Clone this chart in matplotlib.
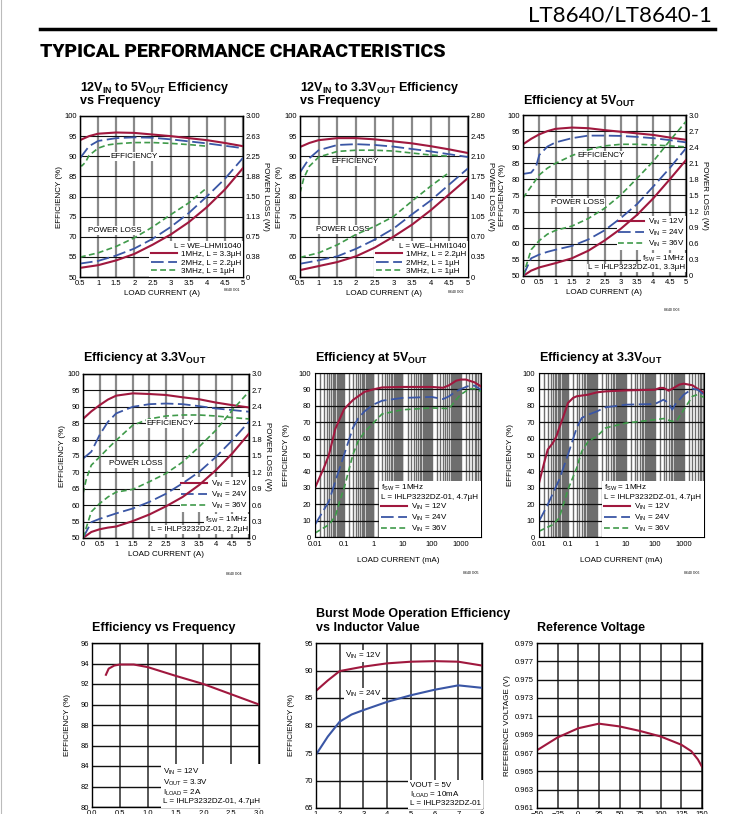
import numpy as np
import matplotlib
matplotlib.use("Agg")
import matplotlib.pyplot as plt
from matplotlib.lines import Line2D
from matplotlib.ticker import LogLocator, NullFormatter

plt.rcParams['font.family'] = ['Liberation Sans', 'DejaVu Sans']
plt.rcParams['mathtext.fontset'] = 'custom'
plt.rcParams['mathtext.rm'] = 'Liberation Sans'
plt.rcParams['mathtext.bf'] = 'Liberation Sans:bold'
plt.rcParams['mathtext.it'] = 'Liberation Sans:italic'

RED = '#a0183e'
BLUE = '#3a56a5'
GREEN = '#3f9a4a'
TS = 5.5  # tick label size

# ---- G01: 12VIN to 5VOUT efficiency vs frequency
g01_i = [0.5, 0.75, 1, 1.5, 2, 2.5, 3, 3.5, 4, 4.5, 5]
g01_eff_1m = [94.0, 95.0, 95.6, 95.9, 95.8, 95.4, 95.0, 94.5, 94.0, 93.3, 92.5]
g01_eff_2m = [89.5, 92.5, 93.8, 94.5, 94.7, 94.6, 94.2, 93.7, 93.2, 92.6, 92.0]
g01_i_3m = [0.5, 0.55, 0.65, 0.75, 1, 1.25, 1.5, 2, 2.5, 3, 3.5, 4]
g01_eff_3m = [87.8, 87.6, 88.5, 90.2, 92.0, 92.8, 93.1, 93.4, 93.4, 93.2, 92.9, 92.5]
g01_li = [0.5, 1, 1.5, 2, 2.5, 3, 3.5, 4, 4.5, 5]
g01_loss_1m = [0.17, 0.22, 0.31, 0.43, 0.60, 0.79, 1.02, 1.30, 1.63, 2.03]
g01_loss_2m = [0.25, 0.30, 0.40, 0.53, 0.71, 0.93, 1.19, 1.50, 1.83, 2.22]
g01_li_3m = [0.5, 1, 1.5, 2, 2.5, 3, 3.5, 4]
g01_loss_3m = [0.37, 0.45, 0.57, 0.73, 0.93, 1.16, 1.38, 1.66]
g01_ylabels = ['50', '55', '70', '75', '80', '85', '90', '95', '100']

# ---- G02: 12VIN to 3.3VOUT efficiency vs frequency
g02_i = [0.5, 0.75, 1, 1.5, 2, 2.5, 3, 3.5, 4, 4.5, 5]
g02_eff_1m = [92.3, 93.3, 94.0, 94.5, 94.5, 94.2, 93.7, 93.2, 92.5, 91.7, 90.8]
g02_eff_2m = [86.0, 89.5, 91.5, 92.8, 93.0, 92.8, 92.4, 91.8, 91.2, 90.5, 89.8]
g02_i_3m = [0.5, 0.6, 0.75, 1, 1.5, 2, 2.5, 3, 3.5, 4, 4.5]
g02_eff_3m = [80.9, 84.5, 87.5, 89.8, 91.2, 91.5, 91.5, 91.3, 90.8, 90.3, 90.0]
g02_li = [0.5, 1, 1.5, 2, 2.5, 3, 3.5, 4, 4.5, 5]
g02_loss_1m = [0.12, 0.19, 0.26, 0.36, 0.51, 0.70, 0.91, 1.16, 1.44, 1.72]
g02_loss_2m = [0.23, 0.29, 0.36, 0.49, 0.65, 0.84, 1.09, 1.33, 1.61, 1.89]
g02_li_3m = [0.5, 1, 1.5, 2, 2.5, 3, 3.5, 4, 4.5]
g02_loss_3m = [0.34, 0.42, 0.56, 0.74, 0.88, 1.05, 1.32, 1.58, 1.82]

# ---- G03: efficiency at 5VOUT
g03_i = [0, 0.25, 0.5, 0.75, 1, 1.5, 2, 2.5, 3, 3.5, 4, 4.5, 5]
g03_eff_12 = [90.9, 92.6, 94.0, 95.0, 95.7, 96.1, 95.9, 95.3, 94.8, 94.3, 93.8, 93.0, 92.3]
g03_i_24 = [0, 0.25, 0.4, 0.5, 0.75, 1, 1.5, 2, 2.5, 3, 3.5, 4, 4.5, 5]
g03_eff_24 = [81.7, 82.1, 84.0, 87.6, 90.2, 91.5, 92.8, 93.6, 93.6, 93.5, 93.2, 92.8, 92.2, 91.5]
g03_eff_36 = [74.2, 77.8, 81.4, 83.5, 85.0, 87.4, 89.2, 90.4, 90.9, 90.9, 90.7, 90.4, 90.1]
g03_loss_12 = [0, 0.10, 0.16, 0.20, 0.24, 0.33, 0.47, 0.66, 0.88, 1.14, 1.45, 1.80, 2.16]
g03_loss_24 = [0, 0.33, 0.40, 0.45, 0.49, 0.56, 0.68, 0.85, 1.08, 1.34, 1.67, 2.01, 2.38]
g03_loss_36 = [0, 0.49, 0.66, 0.78, 0.85, 0.93, 1.07, 1.26, 1.51, 1.82, 2.14, 2.52, 2.88]

# ---- G04: efficiency at 3.3VOUT
g04_i = [0, 0.25, 0.5, 0.75, 1, 1.5, 2, 2.5, 3, 3.5, 4, 4.5, 5]
g04_eff_12 = [86.3, 88.6, 90.5, 92.2, 93.4, 94.1, 93.9, 93.6, 92.9, 92.3, 91.3, 90.5, 89.8]
g04_eff_24 = [74.2, 76.3, 81.4, 85.4, 88.0, 90.0, 90.8, 91.0, 90.8, 90.2, 89.5, 89.0, 88.5]
g04_i_36 = [0, 0.1, 0.25, 0.5, 0.75, 1, 1.5, 2, 2.5, 3, 3.5, 4, 4.5, 5]
g04_eff_36 = [63.5, 68.0, 72.2, 74.7, 77.3, 79.8, 84.4, 86.3, 87.2, 87.5, 87.5, 87.2, 86.7, 86.3]
g04_loss_12 = [0, 0.11, 0.16, 0.19, 0.21, 0.31, 0.43, 0.58, 0.75, 0.97, 1.24, 1.55, 1.91]
g04_loss_24 = [0, 0.29, 0.35, 0.40, 0.45, 0.54, 0.66, 0.81, 1.00, 1.21, 1.48, 1.79, 2.13]
g04_loss_36 = [0, 0.48, 0.63, 0.75, 0.84, 0.89, 1.03, 1.18, 1.39, 1.67, 1.97, 2.34, 2.68]

# ---- G05: efficiency at 5VOUT, light load (mA)
g05_i_12 = [0.01, 0.02, 0.03, 0.05, 0.1, 0.2, 0.5, 1, 2, 10, 100, 250, 400, 700, 1000, 1500, 3000, 5000]
g05_eff_12 = [30, 42, 50, 66, 78, 83.5, 88.5, 90, 91.2, 91.5, 91.5, 91, 92.5, 95.3, 96, 96, 94.3, 91.8]
g05_i = [0.01, 0.03, 0.05, 0.1, 0.2, 0.3, 0.5, 1, 2, 10, 100, 250, 400, 700, 1000, 2000, 3000, 5000]
g05_eff_24 = [7.5, 21.7, 34, 50.2, 66.5, 72.2, 76.6, 80.7, 83.1, 84.8, 85.4, 84.1, 85.8, 88.8, 90.2, 92.3, 92.3, 89.8]
g05_i_36 = [0.01, 0.03, 0.05, 0.07, 0.1, 0.2, 0.3, 0.5, 1, 2, 10, 100, 400, 700, 1000, 2000, 3000, 5000]
g05_eff_36 = [2.4, 7.5, 12.6, 21.7, 29.9, 50.2, 58.3, 64.0, 69.5, 75, 77.6, 78.7, 78.3, 83.7, 86.8, 90.4, 90.4, 88.8]

# ---- G06: efficiency at 3.3VOUT, light load (mA)
g06_i_12 = [0.01, 0.015, 0.02, 0.03, 0.04, 0.05, 0.07, 0.1, 0.15, 0.2, 0.5, 1, 2, 10, 100, 150, 200,
            300, 400, 700, 1000, 2000, 5000]
g06_eff_12 = [32.9, 45.1, 53.3, 57.3, 61.4, 66.5, 73.6, 81.7, 84.8, 85.8, 86.8, 88.2, 88.8, 89.4, 89.8,
              90.9, 90.9, 89.2, 90.4, 92.9, 93.5, 92.5, 87.8]
g06_i_24 = [0.01, 0.02, 0.05, 0.1, 0.2, 0.3, 0.5, 1, 2, 10, 100, 200, 300, 400, 500, 1000, 2000, 3000, 5000]
g06_eff_24 = [9.6, 19.7, 35, 50.2, 66.5, 72.6, 74.6, 76.6, 79.1, 80.7, 81.1, 83.7, 81.7, 77.6, 80.7,
              86.8, 90.4, 89.8, 86.8]
g06_i_36 = [0.01, 0.03, 0.05, 0.1, 0.2, 0.3, 0.5, 1, 2, 10, 100, 200, 400, 600, 1000, 2000, 3000, 5000]
g06_eff_36 = [3.5, 7.5, 11.6, 28.9, 42.1, 52.2, 58.3, 61.4, 66.5, 69.5, 71.5, 72.2, 70.5, 71.5, 77.6,
              85.8, 86.8, 85.2]

# ---- G07: efficiency vs frequency
g07_f = [0.25, 0.3, 0.4, 0.5, 0.75, 1.0, 1.5, 2.0, 2.5, 3.0]
g07_eff = [92.9, 93.5, 93.8, 93.9, 93.9, 93.65, 92.8, 92.0, 91.0, 90.0]

# ---- G08: burst mode efficiency vs inductor value
g08_l = [1, 1.5, 2, 2.5, 3, 4, 5, 6, 7, 8]
g08_eff_12 = [86.3, 88.2, 89.9, 90.3, 90.7, 91.3, 91.6, 91.7, 91.6, 90.9]
g08_eff_24 = [74.7, 78.0, 80.7, 82.0, 82.8, 84.3, 85.5, 86.5, 87.3, 86.85]

# ---- G09: reference voltage vs temperature
g09_t = [-50, -25, 0, 25, 50, 75, 100, 125, 137, 145, 150]
g09_v = [0.9673, 0.9687, 0.9697, 0.9702, 0.9699, 0.9694, 0.9688, 0.9679, 0.9672, 0.9663, 0.9655]

W, H = 736, 814
fig = plt.figure(figsize=(W / 100, H / 100), dpi=100)

def add_axes(l, r, t, b):
    return fig.add_axes([l / W, 1 - b / H, (r - l) / W, (b - t) / H])

def ftext(x, y, s, **kw):
    fig.text(x / W, 1 - y / H, s, **kw)

def title(x, y, s):
    ftext(x, y, s, fontsize=9, fontweight='bold', ha='left', va='center')

def grid_axes(ax, xlim, xticks, ylim, yticks, vcol='#8a8a8a', vlw=1.6, hcol='#111111', hlw=0.8):
    ax.set_xlim(*xlim)
    ax.set_ylim(*ylim)
    ax.set_xticks(xticks)
    ax.set_yticks(yticks)
    ax.set_axisbelow(True)
    ax.grid(axis='x', color=vcol, lw=vlw)
    ax.grid(axis='y', color=hcol, lw=hlw)
    ax.tick_params(length=0, labelsize=TS, pad=2)
    for s in ax.spines.values():
        s.set_linewidth(1.0)

def red(ax, x, y):
    return ax.plot(x, y, color=RED, lw=1.5)[0]

def blue(ax, x, y):
    return ax.plot(x, y, color=BLUE, lw=1.3, dashes=(7, 2.5))[0]

def green(ax, x, y):
    return ax.plot(x, y, color=GREEN, lw=1.2, dashes=(3.5, 2))[0]

def label(ax, x, y, s):
    ax.text(x, y, s, fontsize=5.8, ha='center', va='center',
            bbox=dict(fc='white', ec='none', pad=0.6), zorder=4)

def loss_twin(ax, wmax, wticks, wlabels):
    tw = ax.twinx()
    tw.set_ylim(0, wmax)
    tw.set_yticks(wticks)
    tw.set_yticklabels(wlabels)
    tw.tick_params(length=0, labelsize=TS, pad=2)
    tw.set_ylabel('POWER LOSS (W)', fontsize=5.8, rotation=270, labelpad=6)
    return tw

def code(x, y, s):
    ftext(x, y, s, fontsize=2.5, ha='center', va='center')

# ---------------- header
fig.add_artist(Line2D([1 / W, 1 / W], [0, 1], color='#bbbbbb', lw=0.8))
ftext(712, 15, 'LT8640/LT8640-1', ha='right', va='center', fontsize=16,
      family=['Lato', 'DejaVu Sans'], color='black')
fig.add_artist(Line2D([40 / W, 715 / W], [1 - 29 / H, 1 - 29 / H], color='black', lw=2.5))
ftext(40, 52, 'TYPICAL PERFORMANCE CHARACTERISTICS', ha='left', va='center', fontsize=14,
      family=['Roboto', 'DejaVu Sans'], fontweight='heavy')

lin_ticks = np.arange(0.5, 5.01, 0.5)
lin_labels = ['0.5', '1', '1.5', '2', '2.5', '3', '3.5', '4', '4.5', '5']
zero_ticks = np.arange(0, 5.01, 0.5)
zero_labels = ['0', '0.5', '1', '1.5', '2', '2.5', '3', '3.5', '4', '4.5', '5']

# ---------------- G01
title(80, 88, r'12V$_{\mathbf{IN}}$ to 5V$_{\mathbf{OUT}}$ Efficiency')
title(80, 101, 'vs Frequency')
ax = add_axes(80, 243, 116, 277)
grid_axes(ax, (0.5, 5), lin_ticks, (60, 100), np.arange(60, 101, 5))
ax.set_xticklabels(lin_labels)
ax.set_yticklabels(g01_ylabels)
ax.set_xlabel('LOAD CURRENT (A)', fontsize=5.8, labelpad=2)
ax.set_ylabel('EFFICIENCY (%)', fontsize=5.8, labelpad=1)
h1 = red(ax, g01_i, g01_eff_1m)
h2 = blue(ax, g01_i, g01_eff_2m)
h3 = green(ax, g01_i_3m, g01_eff_3m)
label(ax, 2.0, 90, 'EFFICIENCY')
label(ax, 1.45, 71.6, 'POWER LOSS')
ax.legend([h1, h2, h3], ['1MHz, L = 3.3µH', '2MHz, L = 2.2µH', '3MHz, L = 1µH'],
          title='L = WE–LHMI1040', title_fontsize=5.8, alignment='right', loc='lower right',
          fontsize=5.8, frameon=True, fancybox=False, edgecolor='none', framealpha=1,
          borderpad=0.2, borderaxespad=0.05, handlelength=3.2, labelspacing=0.1, handletextpad=0.5)
tw = loss_twin(ax, 3.0, np.linspace(0, 3, 9), ['0', '0.38', '0.75', '1.13', '1.50', '1.88', '2.25', '2.63', '3.00'])
red(tw, g01_li, g01_loss_1m)
blue(tw, g01_li, g01_loss_2m)
green(tw, g01_li_3m, g01_loss_3m)
code(232, 290, '8640 G01')

# ---------------- G02
title(300, 88, r'12V$_{\mathbf{IN}}$ to 3.3V$_{\mathbf{OUT}}$ Efficiency')
title(300, 101, 'vs Frequency')
ax = add_axes(300, 468, 116, 277)
grid_axes(ax, (0.5, 5), lin_ticks, (60, 100), np.arange(60, 101, 5))
ax.set_xticklabels(lin_labels)
ax.set_xlabel('LOAD CURRENT (A)', fontsize=5.8, labelpad=2)
ax.set_ylabel('EFFICIENCY (%)', fontsize=5.8, labelpad=1)
h1 = red(ax, g02_i, g02_eff_1m)
h2 = blue(ax, g02_i, g02_eff_2m)
h3 = green(ax, g02_i_3m, g02_eff_3m)
label(ax, 1.97, 88.6, 'EFFICIENCY')
label(ax, 1.65, 71.8, 'POWER LOSS')
ax.legend([h1, h2, h3], ['1MHz, L = 2.2µH', '2MHz, L = 1µH', '3MHz, L = 1µH'],
          title='L = WE–LHMI1040', title_fontsize=5.8, alignment='right', loc='lower right',
          fontsize=5.8, frameon=True, fancybox=False, edgecolor='none', framealpha=1,
          borderpad=0.2, borderaxespad=0.05, handlelength=3.2, labelspacing=0.1, handletextpad=0.5)
tw = loss_twin(ax, 2.8, np.linspace(0, 2.8, 9), ['0', '0.35', '0.70', '1.05', '1.40', '1.75', '2.10', '2.45', '2.80'])
red(tw, g02_li, g02_loss_1m)
blue(tw, g02_li, g02_loss_2m)
green(tw, g02_li_3m, g02_loss_3m)
code(456, 292, '8640 G02')

# ---------------- G03 / G04 (load current 0..5A, vin curves)
w3_ticks = np.linspace(0, 3, 11)
w3_labels = ['0', '0.3', '0.6', '0.9', '1.2', '1.5', '1.8', '2.1', '2.4', '2.7', '3.0']

def vin_panel(rect, ttl_xy, ttl, i12, e12, i24, e24, i36, e36, li, l12, l24, l36, eff_xy, loss_xy, ind, codexy, codes):
    title(ttl_xy[0], ttl_xy[1], ttl)
    ax = add_axes(*rect)
    grid_axes(ax, (0, 5), zero_ticks, (50, 100), np.arange(50, 101, 5))
    ax.set_xticklabels(zero_labels)
    ax.set_xlabel('LOAD CURRENT (A)', fontsize=5.8, labelpad=2)
    ax.set_ylabel('EFFICIENCY (%)', fontsize=5.8, labelpad=1)
    h1 = red(ax, i12, e12)
    h2 = blue(ax, i24, e24)
    h3 = green(ax, i36, e36)
    label(ax, eff_xy[0], eff_xy[1], 'EFFICIENCY')
    label(ax, loss_xy[0], loss_xy[1], 'POWER LOSS')
    ax.legend([h1, h2, h3], [r'V$_{\mathrm{IN}}$ = 12V', r'V$_{\mathrm{IN}}$ = 24V', r'V$_{\mathrm{IN}}$ = 36V'],
              loc='lower right', bbox_to_anchor=(1.0, 0.16), fontsize=5.8, frameon=True, fancybox=False,
              edgecolor='none', framealpha=1, borderpad=0.15, borderaxespad=0.0, handlelength=3.2,
              labelspacing=0.1, handletextpad=0.5)
    ax.text(0.995, 0.108, r'f$_{\mathrm{SW}}$ = 1MHz', transform=ax.transAxes, fontsize=5.8, ha='right',
            va='center', bbox=dict(fc='white', ec='none', pad=0.6), zorder=4)
    ax.text(0.995, 0.05, 'L = IHLP3232DZ-01, ' + ind, transform=ax.transAxes, fontsize=5.8, ha='right',
            va='center', bbox=dict(fc='white', ec='none', pad=0.6), zorder=4)
    tw = loss_twin(ax, 3.0, w3_ticks, w3_labels)
    red(tw, li, l12)
    blue(tw, li, l24)
    green(tw, li, l36)
    code(codexy[0], codexy[1], codes)

vin_panel((523, 686, 115, 276), (523, 101), r'Efficiency at 5V$_{\mathbf{OUT}}$',
          g03_i, g03_eff_12, g03_i_24, g03_eff_24, g03_i, g03_eff_36,
          g03_i, g03_loss_12, g03_loss_24, g03_loss_36, (2.4, 87.4), (1.67, 72.9), '3.3µH',
          (672, 310), '8640 G03')
vin_panel((83, 249, 374, 538), (83, 358), r'Efficiency at 3.3V$_{\mathbf{OUT}}$',
          g04_i, g04_eff_12, g04_i, g04_eff_24, g04_i_36, g04_eff_36,
          g04_i, g04_loss_12, g04_loss_24, g04_loss_36, (2.62, 85.0), (1.6, 72.6), '2.2µH',
          (234, 574), '8640 G04')

# ---------------- G05 / G06 (log load current)
def log_panel(rect, ttl_xy, ttl, i12, e12, i24, e24, i36, e36, codexy, codes):
    title(ttl_xy[0], ttl_xy[1], ttl)
    ax = add_axes(*rect)
    ax.set_xscale('log')
    ax.set_xlim(0.01, 5000)
    ax.set_ylim(0, 100)
    ax.set_xticks([0.01, 0.1, 1, 10, 100, 1000])
    ax.set_xticklabels(['0.01', '0.1', '1', '10', '100', '1000'])
    ax.xaxis.set_minor_locator(LogLocator(base=10, subs=np.arange(1, 10, 0.5), numticks=30))
    ax.xaxis.set_minor_formatter(NullFormatter())
    ax.set_yticks(np.arange(0, 101, 10))
    ax.set_axisbelow(True)
    ax.grid(axis='x', which='both', color='#6e6e6e', lw=1.0)
    ax.grid(axis='y', color='#111111', lw=0.9)
    ax.tick_params(which='both', length=0, labelsize=TS, pad=3)
    ax.set_xlabel('LOAD CURRENT (mA)', fontsize=5.8, labelpad=6)
    ax.set_ylabel('EFFICIENCY (%)', fontsize=5.8, labelpad=6)
    h1 = red(ax, i12, e12)
    h2 = blue(ax, i24, e24)
    h3 = green(ax, i36, e36)
    ax.legend([h1, h2, h3], [r'V$_{\mathrm{IN}}$ = 12V', r'V$_{\mathrm{IN}}$ = 24V', r'V$_{\mathrm{IN}}$ = 36V'],
              title=r'f$_{\mathrm{SW}}$ = 1MHz' + '\nL = IHLP3232DZ-01, 4.7µH', title_fontsize=5.8,
              alignment='left', loc='lower right', fontsize=5.8, frameon=True, fancybox=False,
              edgecolor='none', framealpha=1, borderpad=0.3, borderaxespad=0.05, handlelength=3.2,
              labelspacing=0.1, handletextpad=0.5)
    code(codexy[0], codexy[1], codes)

log_panel((315, 481, 373, 537), (315, 358), r'Efficiency at 5V$_{\mathbf{OUT}}$',
          g05_i_12, g05_eff_12, g05_i, g05_eff_24, g05_i_36, g05_eff_36, (471, 573), '8640 G05')
log_panel((539, 704, 373, 537), (539, 358), r'Efficiency at 3.3V$_{\mathbf{OUT}}$',
          g06_i_12, g06_eff_12, g06_i_24, g06_eff_24, g06_i_36, g06_eff_36, (692, 573), '8640 G06')

# ---------------- G07
title(92, 628, 'Efficiency vs Frequency')
ax = add_axes(92, 259, 643, 807)
grid_axes(ax, (0, 3), np.arange(0, 3.01, 0.5), (80, 96), np.arange(80, 97, 2),
          vcol='#3a3a3a', vlw=1.2, hcol='#111111', hlw=1.0)
ax.set_xlabel('SWITCHING FREQUENCY (MHz)', fontsize=5.8, labelpad=2)
ax.set_ylabel('EFFICIENCY (%)', fontsize=5.8, labelpad=7)
red(ax, g07_f, g07_eff)
ax.text(1.27, 80.15, r'V$_{\mathrm{IN}}$ = 12V' + '\n' + r'V$_{\mathrm{OUT}}$ = 3.3V' + '\n' +
        r'I$_{\mathrm{LOAD}}$ = 2A' + '\nL = IHLP3232DZ-01, 4.7µH', fontsize=5.8, ha='left', va='bottom',
        linespacing=1.05, bbox=dict(fc='white', ec='none', pad=1.5), zorder=4)

# ---------------- G08
title(316, 614, 'Burst Mode Operation Efficiency')
title(316, 628, 'vs Inductor Value')
ax = add_axes(316, 482, 643, 808)
grid_axes(ax, (1, 8), np.arange(1, 9, 1), (65, 95), np.arange(65, 96, 5),
          vcol='#3a3a3a', vlw=1.2, hcol='#111111', hlw=1.0)
ax.set_xlabel('INDUCTOR VALUE (µH)', fontsize=5.8, labelpad=2)
ax.set_ylabel('EFFICIENCY (%)', fontsize=5.8, labelpad=7)
ax.plot(g08_l, g08_eff_12, color=RED, lw=1.5)
ax.plot(g08_l, g08_eff_24, color=BLUE, lw=1.5)
ax.text(3.0, 92.6, r'V$_{\mathrm{IN}}$ = 12V', fontsize=5.8, ha='center', va='center',
        bbox=dict(fc='white', ec='none', pad=0.6), zorder=4)
ax.text(3.0, 85.8, r'V$_{\mathrm{IN}}$ = 24V', fontsize=5.8, ha='center', va='center',
        bbox=dict(fc='white', ec='none', pad=0.6), zorder=4)
ax.text(4.95, 65.2, 'VOUT = 5V\n' + r'I$_{\mathrm{LOAD}}$ = 10mA' + '\nL = IHLP3232DZ-01', fontsize=5.8,
        ha='left', va='bottom', linespacing=1.05, bbox=dict(fc='white', ec='none', pad=1.5), zorder=4)

# ---------------- G09
title(537, 628, 'Reference Voltage')
ax = add_axes(537, 702, 643, 808)
grid_axes(ax, (-50, 150), np.arange(-50, 151, 25), (0.961, 0.979), np.arange(0.961, 0.9791, 0.002),
          vcol='#3a3a3a', vlw=1.2, hcol='#111111', hlw=1.0)
ax.set_yticklabels(['%.3f' % v for v in np.arange(0.961, 0.9791, 0.002)])
ax.set_xlabel('TEMPERATURE (°C)', fontsize=5.8, labelpad=2)
ax.set_ylabel('REFERENCE VOLTAGE (V)', fontsize=5.8, labelpad=3)
red(ax, g09_t, g09_v)

fig.savefig('out.png', dpi=100)
